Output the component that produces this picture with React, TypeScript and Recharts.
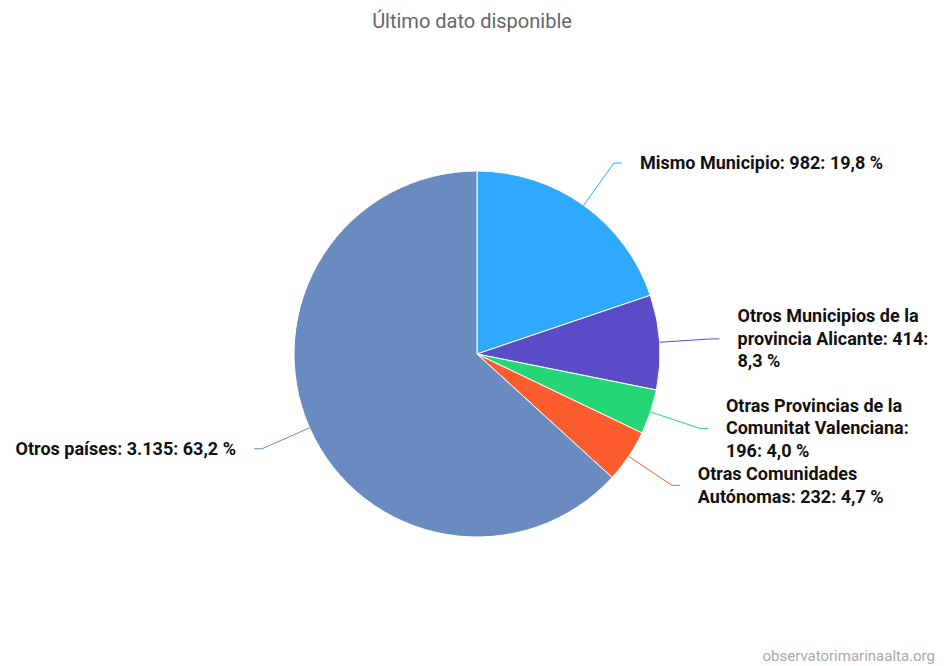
import { Cell, Pie, PieChart } from "recharts";

const categorias = [
  "Mismo Municipio",
  "Otros Municipios de la provincia Alicante",
  "Otras Provincias de la Comunitat Valenciana",
  "Otras Comunidades Autónomas",
  "Otros países",
];
const valores = [982, 414, 196, 232, 3135];
const colores = ["#2fa9fb", "#5a4bc6", "#25d676", "#fd5c2f", "#6a8bbf"];

const titulo = "Último dato disponible";
const creditos = "observatorimarinaalta.org";

const W = 944;
const H = 666;
const RADIAN = Math.PI / 180;
const FUENTE = "bold 18px Roboto";

const datos = categorias.map((name, i) => ({ name, value: valores[i] }));
const total = valores.reduce((a, b) => a + b, 0);

// 3135 -> "3.135", 982 -> "19,8"
const formatoNum = (n: number) =>
  String(n).replace(/\B(?=(\d{3})+(?!\d))/g, ".");
const formatoPct = (n: number) => ((n / total) * 100).toFixed(1).replace(".", ",");

let ctx: CanvasRenderingContext2D | null = null;
const medir = (t: string) => {
  if (!ctx) ctx = document.createElement("canvas").getContext("2d");
  if (!ctx) return t.length * 10;
  ctx.font = FUENTE;
  return ctx.measureText(t).width;
};

const partir = (texto: string, ancho: number) => {
  const palabras = texto.split(" ");
  const lineas: string[] = [];
  let actual = "";
  palabras.forEach((p) => {
    const prueba = actual ? actual + " " + p : p;
    if (actual && medir(prueba) > ancho) {
      lineas.push(actual);
      actual = p;
    } else {
      actual = prueba;
    }
  });
  if (actual) lineas.push(actual);
  return lineas;
};

const Etiqueta = (props: any) => {
  const { cx, cy, midAngle, outerRadius, name, value, index } = props;
  const color = colores[index];
  const cos = Math.cos(-midAngle * RADIAN);
  const sin = Math.sin(-midAngle * RADIAN);
  const x0 = cx + outerRadius * cos;
  const y0 = cy + outerRadius * sin;
  const x1 = cx + (outerRadius + 52) * cos;
  const y1 = cy + (outerRadius + 52) * sin;
  const derecha = cos >= 0;
  const x2 = x1 + (derecha ? 8 : -8);
  const xt = x2 + (derecha ? 18 : -18);
  const texto = `${name}: ${formatoNum(value)}: ${formatoPct(value)} %`;
  const ancho = derecha ? W - xt - 8 : xt - 8;
  const lineas = partir(texto, ancho);
  const alto = 22.5;
  const yIni = y1 - ((lineas.length - 1) * alto) / 2 + 6;

  return (
    <g>
      <path
        d={`M${x0},${y0}L${x1},${y1}L${x2},${y1}`}
        stroke={color}
        strokeWidth={1}
        fill="none"
      />
      <text
        x={xt}
        y={yIni}
        textAnchor={derecha ? "start" : "end"}
        fill="#111111"
        style={{ font: FUENTE }}
      >
        {lineas.map((l, i) => (
          <tspan key={i} x={xt} y={yIni + i * alto}>
            {l}
          </tspan>
        ))}
      </text>
    </g>
  );
};

export default function App() {
  return (
    <div
      style={{
        position: "absolute",
        left: 0,
        top: 0,
        width: W,
        height: H,
        background: "#fff",
        fontFamily: "Roboto, sans-serif",
      }}
    >
      <div
        style={{
          position: "absolute",
          top: 9,
          width: W,
          textAlign: "center",
          fontSize: 20,
          color: "#666666",
        }}
      >
        {titulo}
      </div>
      <PieChart width={W} height={H} margin={{ top: 0, right: 0, bottom: 0, left: 0 }}>
        <Pie
          data={datos}
          dataKey="value"
          nameKey="name"
          cx={477}
          cy={354}
          outerRadius={183}
          startAngle={90}
          endAngle={-270}
          stroke="#ffffff"
          strokeWidth={1}
          label={Etiqueta}
          labelLine={false}
          isAnimationActive={false}
        >
          {datos.map((d, i) => (
            <Cell key={d.name} fill={colores[i]} />
          ))}
        </Pie>
      </PieChart>
      <div
        style={{
          position: "absolute",
          right: 9,
          bottom: 1,
          fontSize: 15,
          color: "#aaaaaa",
        }}
      >
        {creditos}
      </div>
    </div>
  );
}
